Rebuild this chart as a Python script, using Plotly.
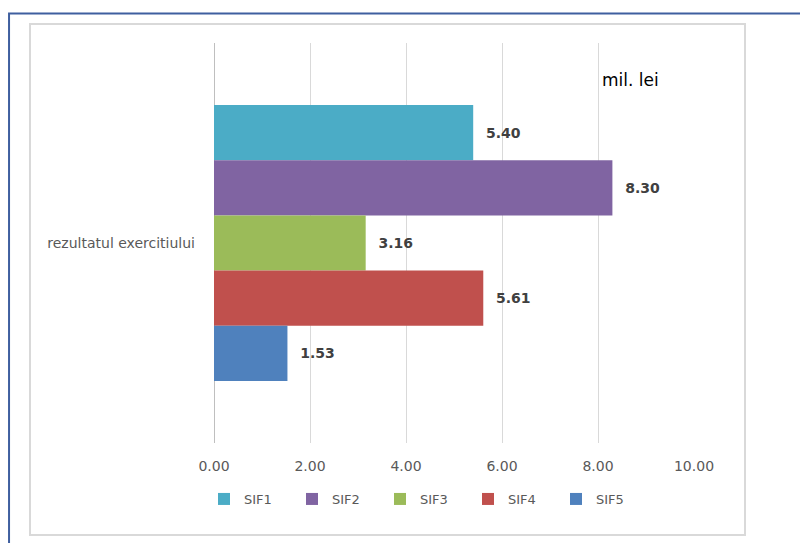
import plotly.graph_objects as go

category = ["rezultatul exercitiului"]
series_names = ["SIF1", "SIF2", "SIF3", "SIF4", "SIF5"]
series_values = [5.40, 8.30, 3.16, 5.61, 1.53]
colors = ["#4BACC6", "#8064A2", "#9BBB59", "#C0504D", "#4F81BD"]
x_ticks = [0, 2, 4, 6, 8, 10]
x_ticklabels = ["0.00", "2.00", "4.00", "6.00", "8.00", "10.00"]

FONT = "DejaVu Sans"
fig = go.Figure()
for name, val, col in zip(series_names, series_values, colors):
    fig.add_trace(go.Bar(
        name=name, y=category, x=[val], orientation="h",
        marker=dict(color=col, line=dict(width=0)),
        text=[val], texttemplate="\u00a0\u00a0%{x:.2f}",
        textposition="outside", cliponaxis=False,
        textfont=dict(family=FONT, size=14, color="#404040", weight="bold"),
        hoverinfo="skip",
    ))

PL, PT = 206, 35  # plot origin in figure px (page has ~8px body offset)
fig.update_layout(
    width=808, height=543,
    margin=dict(l=PL, r=808 - PL - 480, t=PT, b=543 - PT - 400),
    paper_bgcolor="white", plot_bgcolor="white",
    barmode="group", bargap=0.31, bargroupgap=0,
    font=dict(family=FONT, color="#595959"),
    showlegend=True,
    legend=dict(orientation="h", x=(204 - 214) / 480, xanchor="left", y=-0.14, yanchor="middle",
                font=dict(family=FONT, size=13, color="#595959"),
                entrywidth=43, entrywidthmode="pixels", traceorder="normal",
                itemclick=False),
    xaxis=dict(range=[0, 10], tickvals=x_ticks, ticktext=x_ticklabels,
               showgrid=True, gridcolor="#D9D9D9", gridwidth=1,
               zeroline=True, zerolinecolor="#BFBFBF", zerolinewidth=1,
               showline=False, ticks="", ticklabelstandoff=13,
               tickfont=dict(family=FONT, size=14, color="#595959"),
               fixedrange=True),
    yaxis=dict(autorange="reversed", showgrid=False, zeroline=False, showline=False,
               ticks="", ticklabelstandoff=18,
               tickfont=dict(family=FONT, size=14, color="#595959"),
               fixedrange=True),
    shapes=[
        dict(type="rect", xref="paper", yref="paper",
             x0=-0.3833, x1=1.10625, y0=-0.23, y1=1.0475,
             line=dict(color="#D9D9D9", width=2), layer="below"),
        dict(type="rect", xref="paper", yref="paper",
             x0=-0.427, x1=1.3, y0=-0.3, y1=1.074,
             line=dict(color="#3F5F9F", width=2), layer="below"),
    ],
    annotations=[
        dict(text="mil. lei", xref="paper", yref="paper", x=(600 - 214) / 480, y=(443 - 80) / 400,
             xanchor="left", yanchor="middle", showarrow=False,
             font=dict(family=FONT, size=17, color="#000000")),
    ],
)

fig.write_html("out.html")
